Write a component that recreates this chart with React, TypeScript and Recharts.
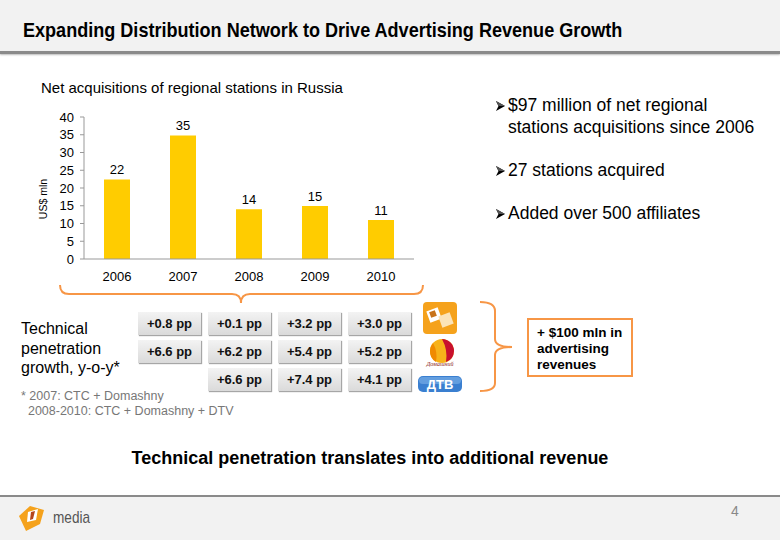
import { BarChart, Bar, XAxis, YAxis, LabelList } from 'recharts';

const years = ['2006', '2007', '2008', '2009', '2010'];
const acquisitions = [22.4, 34.8, 14.0, 14.9, 11.0];
const yTicks = [0, 5, 10, 15, 20, 25, 30, 35, 40];

const ctcGrowth = ['+0.8 pp', '+0.1 pp', '+3.2 pp', '+3.0 pp'];
const domashnyGrowth = ['+6.6 pp', '+6.2 pp', '+5.4 pp', '+5.2 pp'];
const dtvGrowth = ['', '+6.6 pp', '+7.4 pp', '+4.1 pp'];

const bullets = [
  ['$97 million of net regional', 'stations acquisitions since 2006'],
  ['27 stations acquired'],
  ['Added over 500 affiliates'],
];

const chartData = years.map((year, i) => ({ year, value: acquisitions[i] }));

const ORANGE = '#F79646';
const FONT = '"Liberation Sans", Arial, sans-serif';

function GrowthBox({ text, left, top }: { text: string; left: number; top: number }) {
  if (!text) return null;
  return (
    <div
      style={{
        position: 'absolute',
        left,
        top,
        width: 63,
        height: 23,
        background: 'linear-gradient(#f3f3f3, #dadada)',
        boxShadow: '1px 1px 1px #a6a6a6',
        fontWeight: 'bold',
        fontSize: 13,
        lineHeight: '23px',
        textAlign: 'center',
        color: '#111',
      }}
    >
      {text}
    </div>
  );
}

function Arrow() {
  return (
    <svg width={9} height={10} style={{ position: 'absolute', left: 3, top: 7 }}>
      <polygon points="0,0 9,5 0,10 2.5,5" fill="#000" />
      <polygon points="0,0 9,5 2.5,5" fill="#555" />
    </svg>
  );
}

export default function App() {
  const rows = [ctcGrowth, domashnyGrowth, dtvGrowth];

  return (
    <div
      style={{
        position: 'absolute',
        left: 0,
        top: 0,
        width: 780,
        height: 540,
        overflow: 'hidden',
        background: '#fff',
        fontFamily: FONT,
        color: '#000',
      }}
    >
      {/* header */}
      <div style={{ position: 'absolute', left: 0, top: 0, width: 780, height: 51, background: '#f2f2f2' }} />
      <div style={{ position: 'absolute', left: 0, top: 51, width: 780, height: 3, background: '#8a8a8a', boxShadow: '0 1px 2px #bbb' }} />
      <div
        style={{
          position: 'absolute',
          left: 23,
          top: 18,
          fontWeight: 'bold',
          fontSize: 21,
          whiteSpace: 'nowrap',
          transform: 'scaleX(0.86)',
          transformOrigin: 'left center',
        }}
      >
        Expanding Distribution Network to Drive Advertising Revenue Growth
      </div>

      {/* footer */}
      <div style={{ position: 'absolute', left: 0, top: 495, width: 780, height: 2, background: '#8a8a8a' }} />
      <div style={{ position: 'absolute', left: 0, top: 497, width: 780, height: 43, background: '#f2f2f2' }} />
      <div
        style={{
          position: 'absolute',
          left: 53,
          top: 508,
          fontSize: 17,
          color: '#555',
          transform: 'scaleX(0.8)',
          transformOrigin: 'left center',
        }}
      >
        media
      </div>
      <div style={{ position: 'absolute', left: 731, top: 503, fontSize: 14, color: '#888' }}>4</div>

      {/* chart title */}
      <div style={{ position: 'absolute', left: 41, top: 79, fontSize: 15, whiteSpace: 'nowrap' }}>
        Net acquisitions of regional stations in Russia
      </div>

      <div style={{ position: 'absolute', left: 0, top: 0 }}>
        <BarChart width={430} height={300} data={chartData} margin={{ top: 117, right: 16, bottom: 11, left: 44 }}>
          <XAxis
            dataKey="year"
            tickLine={false}
            tickSize={0}
            tickMargin={13}
            axisLine={{ stroke: '#999' }}
            tick={{ fill: '#000', fontSize: 13 }}
            height={30}
          />
          <YAxis
            domain={[0, 40]}
            ticks={yTicks}
            width={40}
            interval={0}
            axisLine={{ stroke: '#999' }}
            tickLine={{ stroke: '#999' }}
            tickSize={4}
            tickMargin={6}
            tick={{ fill: '#000', fontSize: 13 }}
          />
          <Bar dataKey="value" fill="#FFCC00" barSize={26} isAnimationActive={false}>
            <LabelList
              dataKey="value"
              position="top"
              offset={5}
              formatter={(v: number) => Math.round(v)}
              style={{ fill: '#000', fontSize: 13 }}
            />
          </Bar>
        </BarChart>
      </div>

      {/* overlay drawings */}
      <svg width={780} height={540} style={{ position: 'absolute', left: 0, top: 0, pointerEvents: 'none' }}>
        <text transform="translate(47,199) rotate(-90)" textAnchor="middle" fontSize={10.5} fontFamily={FONT} fill="#000">
          US$ mln
        </text>
        <path
          d="M60,285 Q60,294 69,294 L232,294 Q241,294 241,303 Q241,294 250,294 L414,294 Q423,294 423,285"
          fill="none"
          stroke={ORANGE}
          strokeWidth={2}
        />
        <path
          d="M480,302 Q495,302 495,311 L495,339 Q495,347 512,347 Q495,347 495,355 L495,383 Q495,391 480,391"
          fill="none"
          stroke={ORANGE}
          strokeWidth={2}
        />
        {/* CTC logo */}
        <rect x={423} y={302} width={34} height={32} rx={4} fill="#F5A21C" />
        <rect x={428} y={309} width={12} height={12} fill="#fff" transform="rotate(-20 434 315)" />
        <rect x={440} y={314} width={12} height={12} fill="#fbe3b8" transform="rotate(-20 446 320)" />
        <rect x={430} y={311} width={6} height={6} fill="#c8731a" transform="rotate(-20 433 314)" />
        {/* Domashny logo */}
        <circle cx={442} cy={351} r={12} fill="#F7B21A" />
        <path d="M442,339 A12,12 0 0,1 454,351 A12,12 0 0,1 446,362 Q448,350 442,339 Z" fill="#C8102E" />
        <path d="M433,343 Q438,352 436,362 A12,12 0 0,1 430,351 A12,12 0 0,1 433,343 Z" fill="#F08A00" />
        <text x={440} y={366} textAnchor="middle" fontSize={6} fontStyle="italic" fill="#8a1a10" fontFamily="serif">
          Домашний
        </text>
        {/* DTV logo */}
        <rect x={418} y={376} width={44} height={16} rx={5} fill="#3A7FD0" />
        <rect x={419} y={377} width={42} height={7} rx={4} fill="#7fb2ea" opacity={0.6} />
        <text x={440} y={389} textAnchor="middle" fontSize={13} fontWeight="bold" fill="#fff" fontFamily={FONT}>
          ДТВ
        </text>
        {/* footer logo */}
        <path d="M19,516 L30,506 L44,510 L40,524 L26,531 Z" fill="#F5A21C" />
        <path d="M28,512 L38,509 L36,520 L27,522 Z" fill="#fff" />
        <path d="M31,512 L35,511 L33,519 L30,520 Z" fill="#b5451b" />
      </svg>

      {/* growth boxes */}
      {rows.map((row, r) =>
        row.map((text, c) => <GrowthBox key={`${r}-${c}`} text={text} left={138 + c * 70} top={312 + r * 28} />)
      )}

      {/* left labels */}
      <div style={{ position: 'absolute', left: 21, top: 319, fontSize: 16, lineHeight: '19.5px' }}>
        Technical
        <br />
        penetration
        <br />
        growth, y-o-y*
      </div>
      <div style={{ position: 'absolute', left: 21, top: 389, fontSize: 12.5, lineHeight: '15px', color: '#777', whiteSpace: 'pre' }}>
        {'* 2007: CTC + Domashny\n  2008-2010: CTC + Domashny + DTV'}
      </div>

      {/* revenue box */}
      <div
        style={{
          position: 'absolute',
          left: 527,
          top: 318,
          width: 106,
          height: 59,
          border: `2px solid ${ORANGE}`,
          fontWeight: 'bold',
          fontSize: 13.5,
          lineHeight: '16px',
          padding: '5px 0 0 8px',
          boxSizing: 'border-box',
        }}
      >
        + $100 mln in
        <br />
        advertising
        <br />
        revenues
      </div>

      {/* bullets */}
      {bullets.map((lines, i) => (
        <div
          key={i}
          style={{ position: 'absolute', left: 493, top: i === 0 ? 94 : 116 + i * 43, fontSize: 17.5, lineHeight: '22px' }}
        >
          {lines.map((line, j) => (
            <div key={j} style={{ position: 'relative', paddingLeft: 15 }}>
              {j === 0 && <Arrow />}
              {line}
            </div>
          ))}
        </div>
      ))}

      {/* conclusion */}
      <div style={{ position: 'absolute', left: 0, width: 740, top: 448, textAlign: 'center', fontSize: 18, fontWeight: 'bold' }}>
        Technical penetration translates into additional revenue
      </div>
    </div>
  );
}
